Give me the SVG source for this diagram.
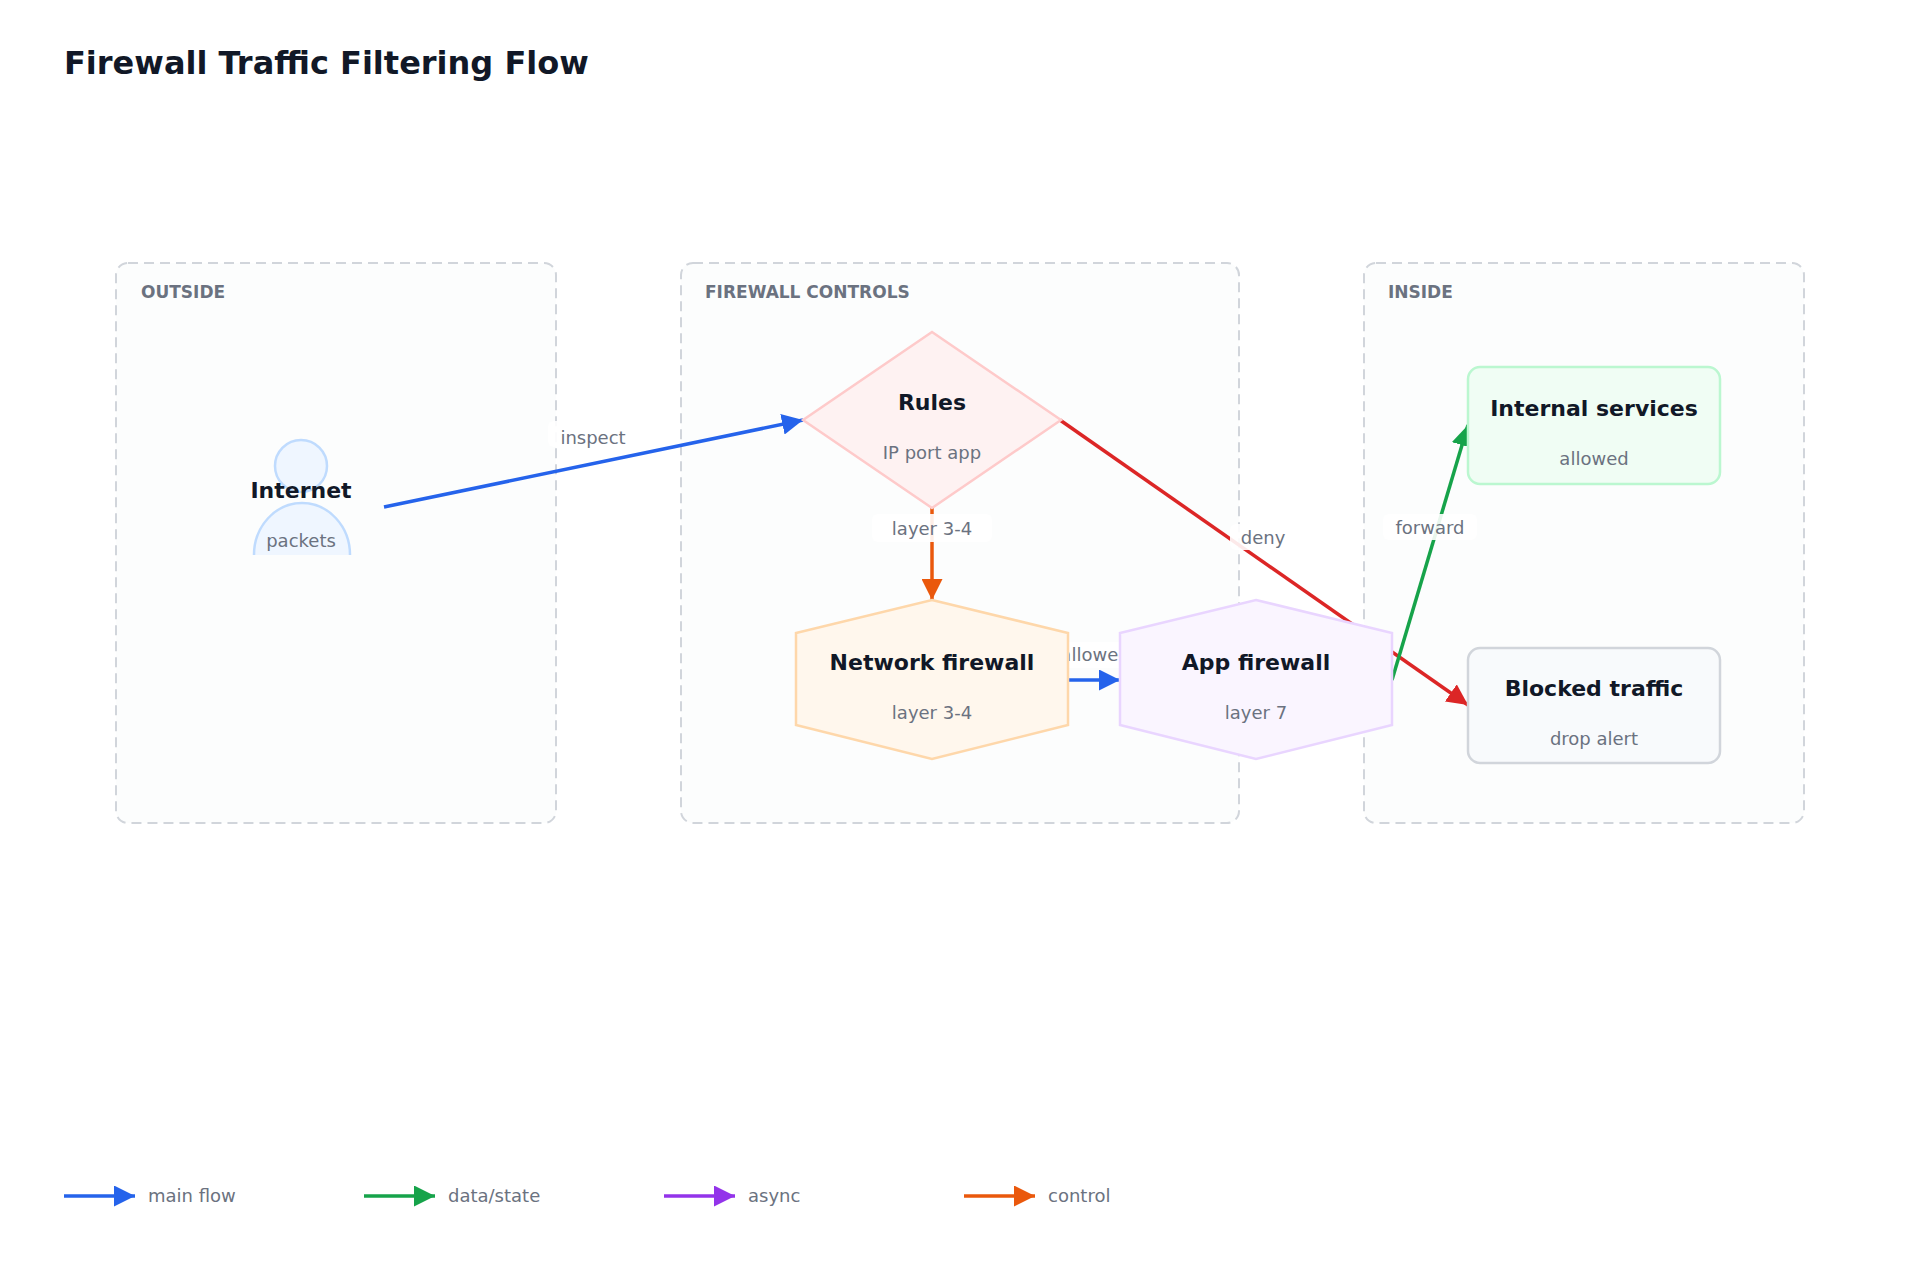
<svg xmlns="http://www.w3.org/2000/svg" width="1920" height="1280" viewBox="0 0 1920 1280">
<defs>
<marker id="mb" viewBox="0 0 10 10" refX="10" refY="5" markerWidth="6" markerHeight="6" markerUnits="strokeWidth" orient="auto"><path d="M0,0L10,5L0,10z" fill="#2563eb"/></marker>
<marker id="mg" viewBox="0 0 10 10" refX="10" refY="5" markerWidth="6" markerHeight="6" markerUnits="strokeWidth" orient="auto"><path d="M0,0L10,5L0,10z" fill="#16a34a"/></marker>
<marker id="mp" viewBox="0 0 10 10" refX="10" refY="5" markerWidth="6" markerHeight="6" markerUnits="strokeWidth" orient="auto"><path d="M0,0L10,5L0,10z" fill="#9333ea"/></marker>
<marker id="mo" viewBox="0 0 10 10" refX="10" refY="5" markerWidth="6" markerHeight="6" markerUnits="strokeWidth" orient="auto"><path d="M0,0L10,5L0,10z" fill="#ea580c"/></marker>
<marker id="mr" viewBox="0 0 10 10" refX="10" refY="5" markerWidth="6" markerHeight="6" markerUnits="strokeWidth" orient="auto"><path d="M0,0L10,5L0,10z" fill="#dc2626"/></marker>
</defs>
<style>
text{font-family:"DejaVu Sans",Verdana,sans-serif}
.title{font-size:32px;font-weight:bold;fill:#111827}
.grp{fill:#fcfdfd;stroke:#d1d5db;stroke-width:2;stroke-dasharray:10 6}
.gl{font-size:17px;font-weight:bold;fill:#6b7280}
.nt{font-size:22px;font-weight:bold;fill:#111827;text-anchor:middle}
.ns{font-size:18px;fill:#6b7280;text-anchor:middle}
.el{font-size:18px;fill:#6b7280;text-anchor:middle}
.lb{fill:#ffffff;opacity:0.9}
.e{fill:none;stroke-width:3.5}
.lg{font-size:18px;fill:#6b7280}
</style>
<rect width="1920" height="1280" fill="#ffffff"/>
<text class="title" x="64" x2="0" y="74">Firewall Traffic Filtering Flow</text>
<g id="groups">
<rect class="grp" x="116" y="263" width="440" height="560" rx="12"/>
<text class="gl" x="141" y="298">OUTSIDE</text>
<rect class="grp" x="681" y="263" width="558" height="560" rx="12"/>
<text class="gl" x="705" y="298">FIREWALL CONTROLS</text>
<rect class="grp" x="1364" y="263" width="440" height="560" rx="12"/>
<text class="gl" x="1388" y="298">INSIDE</text>
</g>
<g id="connectors">
<path class="e" d="M384,507L803,420" stroke="#2563eb" marker-end="url(#mb)"/>
<rect class="lb" x="548" y="421" width="90" height="26" rx="6"/>
<text class="el" x="593" y="444">inspect</text>
<path class="e" d="M932,508L932,600" stroke="#ea580c" marker-end="url(#mo)"/>
<rect class="lb" x="872" y="514" width="120" height="28" rx="6"/>
<text class="el" x="932" y="535">layer 3-4</text>
<path class="e" d="M1060,420L1468,705" stroke="#dc2626" marker-end="url(#mr)"/>
<rect class="lb" x="1230" y="524" width="64" height="26" rx="6"/>
<text class="el" x="1263" y="544">deny</text>
<path class="e" d="M1392,680L1468,425" stroke="#16a34a" marker-end="url(#mg)"/>
<rect class="lb" x="1383" y="514" width="94" height="26" rx="6"/>
<text class="el" x="1430" y="534">forward</text>
<path class="e" d="M1068,680L1120,680" stroke="#2563eb" marker-end="url(#mb)"/>
<rect class="lb" x="1052" y="642" width="86" height="26" rx="6"/>
<text class="el" x="1095" y="661">allowed</text>
</g>
<g id="internet">
<circle cx="301" cy="466" r="26" fill="#eff6ff" stroke="#bfdbfe" stroke-width="2.5"/>
<path d="M254,555A48,52 0 0 1 350,555" fill="#eff6ff" stroke="#bfdbfe" stroke-width="2.5"/>
<text class="nt" x="301" y="498">Internet</text>
<text class="ns" x="301" y="547">packets</text>
</g>
<g id="rules">
<polygon points="932,332 1061,420 932,508 803,420" fill="#fef2f2" stroke="#fecaca" stroke-width="2.5"/>
<text class="nt" x="932" y="410">Rules</text>
<text class="ns" x="932" y="459">IP port app</text>
</g>
<g id="network-firewall">
<polygon points="932,600 1068,633 1068,725 932,759 796,725 796,633" fill="#fff7ed" stroke="#fed7aa" stroke-width="2.5"/>
<text class="nt" x="932" y="670">Network firewall</text>
<text class="ns" x="932" y="719">layer 3-4</text>
</g>
<g id="app-firewall">
<polygon points="1256,600 1392,633 1392,725 1256,759 1120,725 1120,633" fill="#faf5ff" stroke="#e9d5ff" stroke-width="2.5"/>
<text class="nt" x="1256" y="670">App firewall</text>
<text class="ns" x="1256" y="719">layer 7</text>
</g>
<g id="internal-services">
<rect x="1468" y="367" width="252" height="117" rx="12" fill="#f0fdf4" stroke="#bbf7d0" stroke-width="2.5"/>
<text class="nt" x="1594" y="416">Internal services</text>
<text class="ns" x="1594" y="465">allowed</text>
</g>
<g id="blocked-traffic">
<rect x="1468" y="648" width="252" height="115" rx="12" fill="#f8fafc" stroke="#d1d5db" stroke-width="2.5"/>
<text class="nt" x="1594" y="696">Blocked traffic</text>
<text class="ns" x="1594" y="745">drop alert</text>
</g>
<g id="legend">
<path class="e" d="M64,1196L135,1196" stroke="#2563eb" marker-end="url(#mb)"/>
<text class="lg" x="148" y="1202">main flow</text>
<path class="e" d="M364,1196L435,1196" stroke="#16a34a" marker-end="url(#mg)"/>
<text class="lg" x="448" y="1202">data/state</text>
<path class="e" d="M664,1196L735,1196" stroke="#9333ea" marker-end="url(#mp)"/>
<text class="lg" x="748" y="1202">async</text>
<path class="e" d="M964,1196L1035,1196" stroke="#ea580c" marker-end="url(#mo)"/>
<text class="lg" x="1048" y="1202">control</text>
</g>
</svg>
